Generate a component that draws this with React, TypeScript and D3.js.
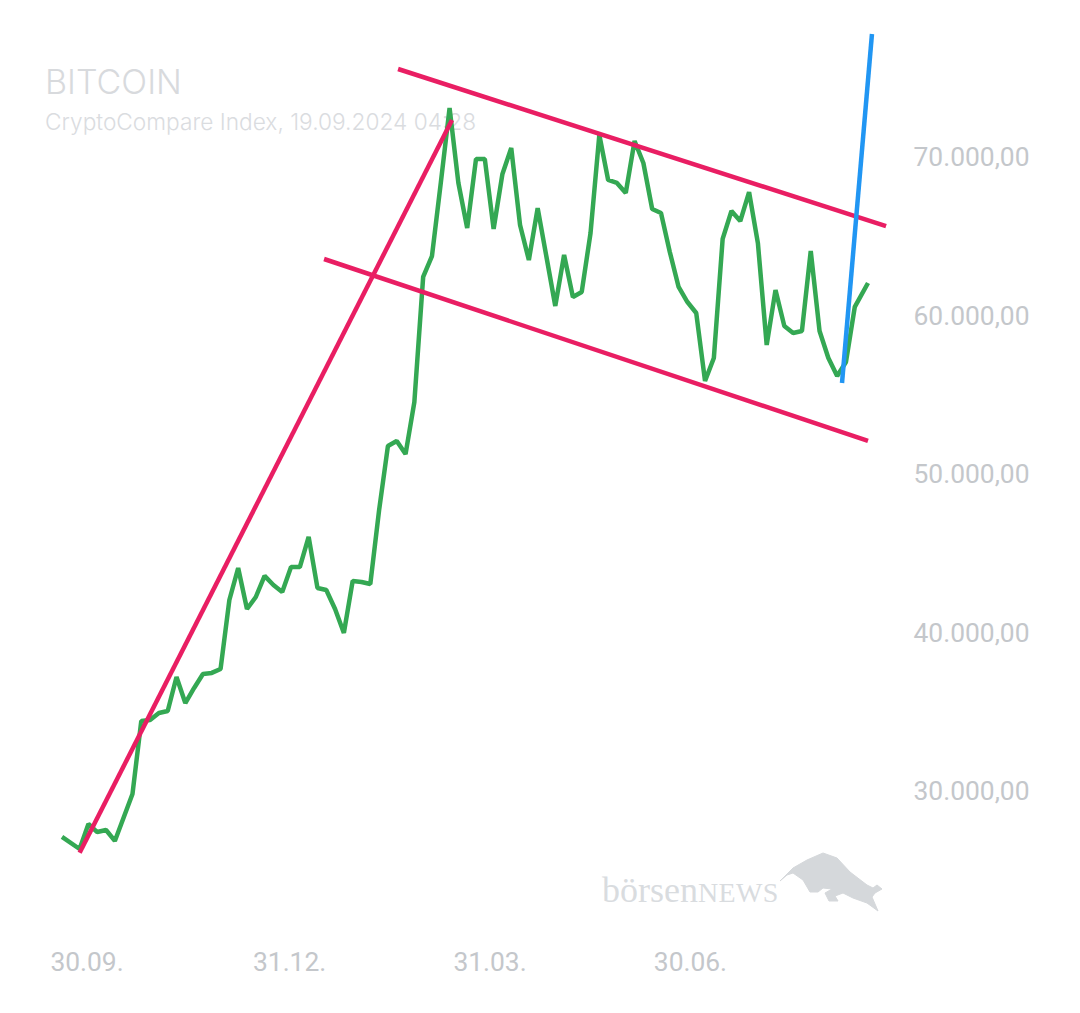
import React, { useRef, useEffect } from "react";
import * as d3 from "d3";

const startDate = Date.UTC(2023, 8, 19);
const dayMs = 86400000;

// days since startDate
const priceDays = [
  0, 8, 12, 16, 20, 24, 32, 36, 40, 44, 48, 52, 56, 60, 64, 68, 72, 76, 80, 84,
  88, 92, 96, 100, 104, 108, 112, 116, 120, 124, 128, 132, 136, 140, 144, 148,
  152, 156, 160, 164, 168, 172, 176, 180, 184, 188, 192, 196, 200, 204, 208,
  212, 216, 220, 224, 228, 232, 236, 240, 244, 248, 252, 256, 260, 264, 268,
  272, 276, 280, 284, 288, 292, 296, 300, 304, 308, 312, 316, 320, 324, 328,
  332, 336, 340, 344, 348, 352, 356, 360, 366,
];
const priceValues = [
  27100, 26340, 27920, 27410, 27540, 26850, 29810, 34420, 34480, 34920, 35050,
  37190, 35550, 36500, 37380, 37450, 37700, 42050, 44070, 41480, 42240, 43570,
  43000, 42560, 44130, 44130, 46030, 42810, 42680, 41480, 39970, 43250, 43190,
  43060, 47730, 51770, 52080, 51260, 54540, 62430, 63750, 68360, 73090, 68360,
  65520, 69870, 69870, 65460, 68930, 70570, 65710, 63500, 66780, 63690, 60600,
  63820, 61170, 61480, 65200, 71390, 68550, 68360, 67730, 71010, 69620, 66720,
  66470, 64010, 61800, 60850, 60160, 55870, 57320, 64830, 66590, 65960, 67790,
  64570, 58140, 61610, 59340, 58900, 59020, 64070, 59020, 57320, 56180, 57070,
  60540, 62050,
];

const riseLine = [[8.0, 26100], [177.1, 72334]];
const upperChannel = [[152.6, 75552], [374.2, 65640]];
const lowerChannel = [[119, 63565], [366, 52090]];
const breakoutLine = [[354.2, 55742], [367.8, 77760]];

const yTicks = [30000, 40000, 50000, 60000, 70000];
const xTickDates = [
  [Date.UTC(2023, 8, 30), "30.09."],
  [Date.UTC(2023, 11, 31), "31.12."],
  [Date.UTC(2024, 2, 31), "31.03."],
  [Date.UTC(2024, 5, 30), "30.06."],
] as [number, string][];

const title = "BITCOIN";
const subtitle = "CryptoCompare Index, 19.09.2024 04:28";

const bullPath =
  "M780 881 L793 868 L807 860 L823 853 L837 858 L850 872 L867 885 L873 888 L877 885 L882 889 L875 893 L872 897 L878 911 L867 903 L853 898 L843 893 L835 896 L838 901 L829 901 L825 893 L832 889 L823 888 L818 892 L810 892 L803 880 L793 873 L787 875 Z";

const App: React.FC = () => {
  const ref = useRef<SVGSVGElement | null>(null);

  useEffect(() => {
    const svg = d3.select(ref.current);
    svg.selectAll("*").remove();

    const x = d3
      .scaleUtc()
      .domain([startDate, startDate + 366 * dayMs])
      .range([62, 868]);
    const y = d3.scaleLinear().domain([30000, 70000]).range([791, 157]);

    const fmt = (v: number) =>
      d3.format(",.2f")(v).replace(/,/g, "#").replace(".", ",").replace(/#/g, ".");

    // Header
    svg
      .append("text")
      .attr("x", 45)
      .attr("y", 94)
      .attr("fill", "#d8dadd")
      .style("font-family", "Inter")
      .style("font-weight", 300)
      .style("font-size", "34px")
      .text(title);
    svg
      .append("text")
      .attr("x", 45)
      .attr("y", 129.5)
      .attr("fill", "#dadcdf")
      .style("font-family", "Inter")
      .style("font-weight", 300)
      .style("font-size", "22.7px")
      .text(subtitle);

    // Axes as plain labels
    svg
      .selectAll(".ytick")
      .data(yTicks)
      .enter()
      .append("text")
      .attr("class", "ytick")
      .attr("x", 1029.5)
      .attr("y", (d) => y(d) + 9)
      .attr("text-anchor", "end")
      .attr("fill", "#c4c7cb")
      .style("font-family", "Roboto")
      .style("font-size", "26.4px")
      .text(fmt);
    svg
      .selectAll(".xtick")
      .data(xTickDates)
      .enter()
      .append("text")
      .attr("class", "xtick")
      .attr("x", (d) => x(d[0]) + 0.8)
      .attr("y", 971)
      .attr("text-anchor", "middle")
      .attr("fill", "#c4c7cb")
      .style("font-family", "Roboto")
      .style("font-size", "26.4px")
      .text((d) => d[1]);

    // Watermark
    const logo = svg.append("text").attr("x", 602).attr("y", 902).attr("fill", "#d9dcdf");
    logo
      .append("tspan")
      .style("font-family", "Liberation Serif")
      .style("font-size", "36px")
      .text("börsen");
    logo
      .append("tspan")
      .style("font-family", "Liberation Serif")
      .style("font-size", "28px")
      .style("letter-spacing", "0.3px")
      .text("NEWS");
    svg
      .append("path")
      .attr("d", bullPath)
      .attr("fill", "#d5d8db")
      .attr("stroke", "#d5d8db")
      .attr("stroke-linejoin", "round");

    // Price
    const line = d3
      .line<[number, number]>()
      .x((d) => x(startDate + d[0] * dayMs))
      .y((d) => y(d[1]));

    svg
      .append("path")
      .datum(d3.zip(priceDays, priceValues) as [number, number][])
      .attr("fill", "none")
      .attr("stroke", "#34a853")
      .attr("stroke-width", 4.5)
      .attr("stroke-linejoin", "bevel")
      .attr("d", line);

    // Drawn trend lines
    const trends = [
      { pts: riseLine, color: "#e91e63" },
      { pts: upperChannel, color: "#e91e63" },
      { pts: lowerChannel, color: "#e91e63" },
      { pts: breakoutLine, color: "#2196f3" },
    ];
    svg
      .selectAll(".trend")
      .data(trends)
      .enter()
      .append("path")
      .attr("class", "trend")
      .attr("fill", "none")
      .attr("stroke", (d) => d.color)
      .attr("stroke-width", 4.5)
      .attr("d", (d) => line(d.pts as [number, number][]));
  }, []);

  return (
    <svg
      ref={ref}
      width={1080}
      height={1013}
      style={{ position: "absolute", left: 0, top: 0, background: "#fff" }}
    />
  );
};

export default App;
